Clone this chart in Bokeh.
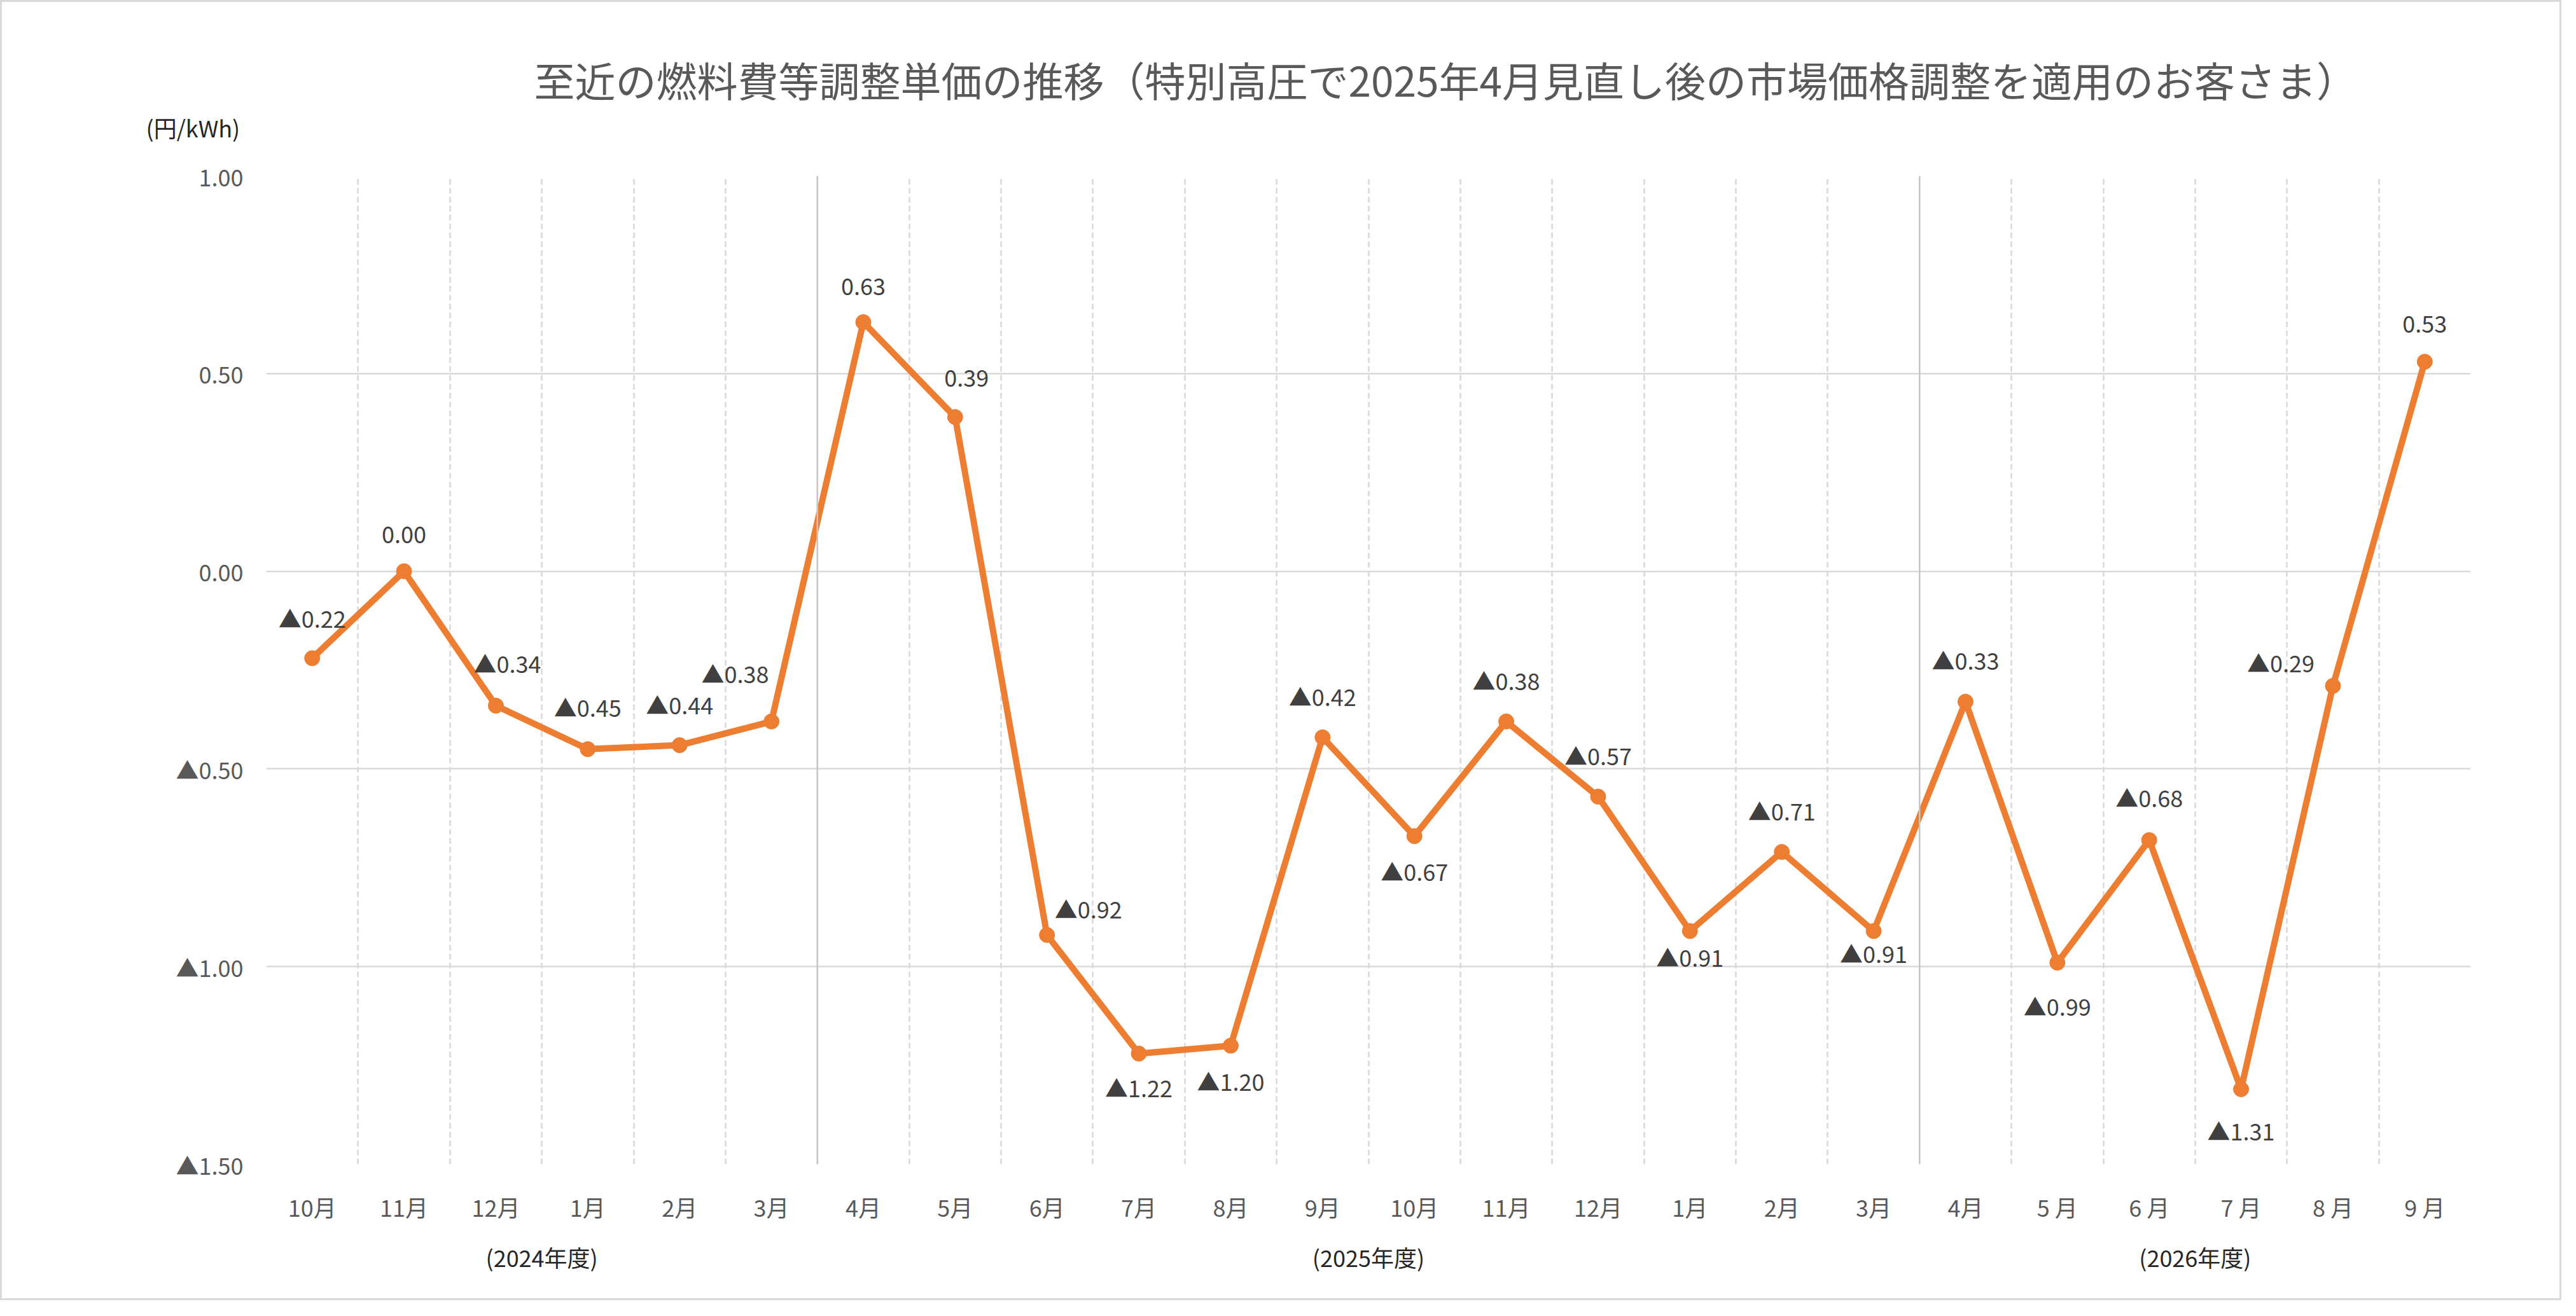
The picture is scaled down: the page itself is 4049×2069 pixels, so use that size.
from bokeh.plotting import figure
from bokeh.models import (Range1d, FixedTicker, CustomJSTickFormatter, Span, Title,
                          LabelSet, ColumnDataSource, LinearAxis)
from bokeh.core.properties import value
from bokeh.embed import file_html
from bokeh.resources import INLINE

# ---------------- data ----------------
months = ["10月", "11月", "12月", "1月", "2月", "3月",
          "4月", "5月", "6月", "7月", "8月", "9月",
          "10月", "11月", "12月", "1月", "2月", "3月",
          "4月", "5 月", "6 月", "7 月", "8 月", "9 月"]
values = [-0.22, 0.00, -0.34, -0.45, -0.44, -0.38,
          0.63, 0.39, -0.92, -1.22, -1.20, -0.42,
          -0.67, -0.38, -0.57, -0.91, -0.71, -0.91,
          -0.33, -0.99, -0.68, -1.31, -0.29, 0.53]
fiscal_years = ["(2024年度)", "(2025年度)", "(2026年度)"]
y_ticks = [-1.5, -1.0, -0.5, 0.0, 0.5, 1.0]
title_text = "至近の燃料費等調整単価の推移（特別高圧で2025年4月見直し後の市場価格調整を適用のお客さま）"
unit_text = "(円/kWh)"

# ---------------- label placement (screen px; +x right, +y down) ----------------
label_dx = [0, 0, 18, 0, 0, -57, 0, 18, 65, 0, 0, 0,
            0, 0, 0, 0, 0, 0, 0, 0, 0, 0, -82, 0]
label_dy = [-64, -57, -67, -67, -65, -76, -55, -61, -42, 53, 55, -65,
            54, -65, -65, 40, -65, 34, -66, 68, -68, 65, -37, -59]

FONT = "Noto Sans CJK JP"
ORANGE = "#ED7D31"
GRID = "#d9d9d9"

n = len(values)
xs = [i + 0.5 for i in range(n)]


def fmt(v):
    return ("▲%.2f" % abs(v)) if v < 0 else ("%.2f" % v)


labels = [fmt(v) for v in values]

# fiscal-year boundaries: where April starts
breaks = [i for i, m in enumerate(months) if m.replace(" ", "") == "4月"]
bounds = [0] + breaks + [n]
fy_centers = [(bounds[k] + bounds[k + 1]) / 2 for k in range(len(fiscal_years))]

W, H = 4026, 2044
p = figure(width=W, height=H,
           x_range=Range1d(0, n), y_range=Range1d(y_ticks[0], y_ticks[-1]),
           output_backend="svg", toolbar_location=None,
           min_border_left=415, min_border_right=146,
           min_border_top=273, min_border_bottom=217,
           background_fill_color="white", border_fill_color="white",
           outline_line_color=None)
p.styles = {"border": "3px solid #d9d9d9"}

# title (outermost) and unit caption (next to the frame)
p.title.text = title_text
p.title.align = "left"
p.title.offset = 421
p.title.text_font = FONT
p.title.text_font_size = "64px"
p.title.text_font_style = "normal"
p.title.text_color = "#595959"
p.title.standoff = -96

unit_title = Title(text=unit_text, align="left", offset=-189,
                   text_font=FONT, text_font_size="36px", text_font_style="normal",
                   text_color="#262626", standoff=101)
p.add_layout(unit_title, "above")

# x axis (months)
p.xaxis.ticker = FixedTicker(ticks=xs)
p.xaxis.formatter = CustomJSTickFormatter(args=dict(labels=months),
                                          code="return labels[Math.floor(tick)];")
# second x axis (fiscal years)
fy_axis = LinearAxis(ticker=FixedTicker(ticks=fy_centers),
                     formatter=CustomJSTickFormatter(
                         args=dict(labels=fiscal_years, centers=fy_centers),
                         code="return labels[centers.indexOf(tick)];"))
p.add_layout(fy_axis, "below")

# y axis
p.yaxis.ticker = FixedTicker(ticks=y_ticks)
p.yaxis.formatter = CustomJSTickFormatter(
    code="return tick < 0 ? '\u25B2' + Math.abs(tick).toFixed(2) : Math.abs(tick).toFixed(2);")

for ax in (p.xaxis + p.yaxis):
    ax.axis_line_color = None
    ax.major_tick_line_color = None
    ax.minor_tick_line_color = None
    ax.major_tick_out = 0
    ax.major_tick_in = 0
    ax.minor_tick_out = 0
    ax.minor_tick_in = 0
    ax.major_label_text_font = FONT
    ax.major_label_text_font_size = "36px"
    ax.major_label_text_color = "#595959"
p.xaxis[0].major_label_standoff = 40
fy_axis.major_label_standoff = 24
fy_axis.major_label_text_color = "#262626"
p.yaxis.major_label_standoff = 36

# grids
p.ygrid.ticker = FixedTicker(ticks=y_ticks)
p.ygrid.grid_line_color = GRID
p.ygrid.grid_line_width = 2.6
p.xgrid.ticker = FixedTicker(ticks=[k for k in range(n + 1) if k not in breaks])
p.xgrid.grid_line_color = GRID
p.xgrid.grid_line_width = 2.6
p.xgrid.grid_line_dash = "9 5"

for b in breaks:
    p.add_layout(Span(location=b, dimension="height", line_color="#c6c6c6",
                      line_width=2.6))

# series
src = ColumnDataSource(dict(x=xs, y=values, text=labels,
                            dx=label_dx, dyu=[-d for d in label_dy]))
p.line("x", "y", source=src, line_color=ORANGE, line_width=10)
p.scatter("x", "y", source=src, size=24, fill_color=ORANGE, line_color=ORANGE)

p.add_layout(LabelSet(x="x", y="y", text="text", source=src,
                      x_offset="dx", y_offset="dyu",
                      text_align="center", text_baseline="middle",
                      text_font=value(FONT), text_font_size="36px",
                      text_color="#404040"))

open("out.html", "w").write(file_html(p, INLINE))
